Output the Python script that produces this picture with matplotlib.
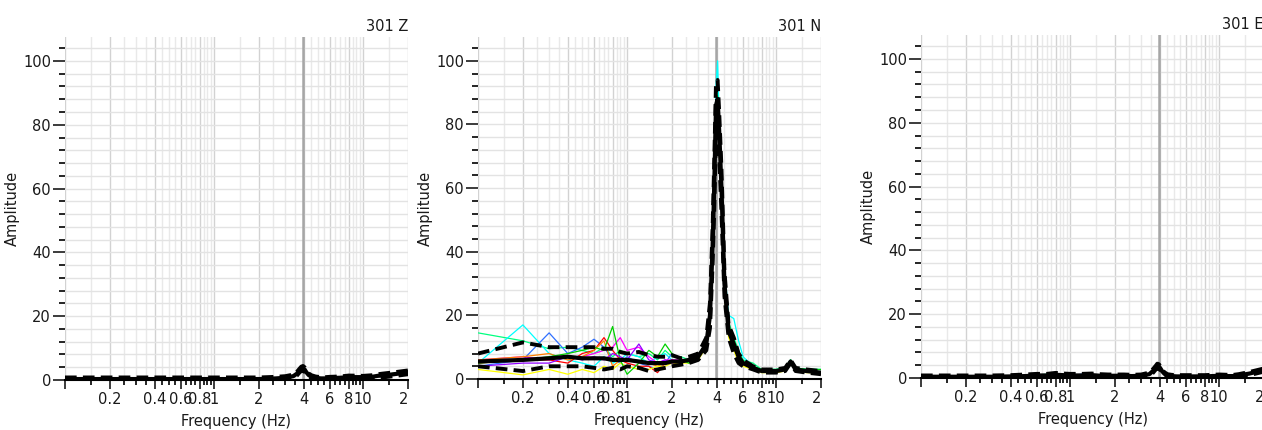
import numpy as np
import matplotlib
matplotlib.use('Agg')
import matplotlib.pyplot as plt
from matplotlib.ticker import FixedLocator, FixedFormatter
from matplotlib.transforms import Bbox, TransformedBbox

# frequency grid (Hz) shared by every curve
freq = [0.1, 0.2, 0.3, 0.4, 0.5, 0.6, 0.7, 0.8, 0.9, 1.0,
        1.2, 1.4, 1.6, 1.8, 2.0, 2.3, 2.6, 3.0, 3.4, 3.6,
        3.75, 3.85, 3.95, 4.05, 4.15, 4.3, 4.5, 4.8, 5.2, 5.6,
        6.0, 7.0, 8.0, 10.0, 11.5, 12.5, 13.5, 16.0, 20.0]

peak_freq = 3.98

titles = ['301 Z', '301 N', '301 E']
tick_vals = [0.1, 0.2, 0.4, 0.6, 0.8, 1, 2, 4, 6, 8, 10, 20]
tick_labels = ['', '0.2', '0.4', '0.6', '0.8', '1', '2', '4', '6', '8', '10', '20']

# ---- Z component ----
z_mean = [0.3, 0.3, 0.3, 0.3, 0.3, 0.3, 0.3, 0.3, 0.3, 0.3,
          0.3, 0.3, 0.3, 0.3, 0.3, 0.4, 0.5, 0.7, 1.2, 2.0,
          3.0, 3.5, 3.7, 3.3, 2.5, 1.6, 1.0, 0.7, 0.5, 0.5,
          0.6, 0.7, 0.9, 0.9, 1.0, 1.3, 1.4, 1.8, 2.4]
z_upper = [0.8, 0.8, 0.8, 0.8, 0.8, 0.8, 0.8, 0.8, 0.8, 0.8,
           0.8, 0.8, 0.8, 0.8, 0.8, 0.9, 1.0, 1.2, 1.7, 2.6,
           3.6, 4.2, 4.4, 4.0, 3.1, 2.1, 1.5, 1.1, 0.9, 0.9,
           1.0, 1.1, 1.4, 1.3, 1.5, 1.8, 2.0, 2.4, 3.0]
z_lower = [0.0, 0.0, 0.0, 0.0, 0.0, 0.0, 0.0, 0.0, 0.0, 0.0,
           0.0, 0.0, 0.0, 0.0, 0.0, 0.0, 0.1, 0.3, 0.7, 1.4,
           2.4, 2.8, 3.0, 2.6, 1.9, 1.1, 0.5, 0.3, 0.2, 0.2,
           0.2, 0.3, 0.4, 0.5, 0.5, 0.8, 0.8, 1.2, 1.8]
z_magenta = [0.2, 0.2, 0.2, 0.3, 0.2, 0.3, 0.2, 0.3, 0.2, 0.3,
             0.3, 0.2, 0.3, 0.3, 0.3, 0.4, 0.5, 0.6, 1.0, 1.8,
             2.8, 3.4, 3.6, 3.2, 2.3, 1.5, 0.9, 0.6, 0.4, 0.5,
             0.6, 0.7, 0.8, 0.8, 1.0, 1.2, 1.3, 1.9, 2.2]
z_green = [0.3, 0.4, 0.3, 0.3, 0.4, 0.3, 0.4, 0.3, 0.3, 0.4,
           0.3, 0.3, 0.4, 0.3, 0.3, 0.4, 0.5, 0.7, 1.3, 2.1,
           3.1, 3.6, 3.8, 3.4, 2.6, 1.7, 1.1, 0.8, 0.6, 0.6,
           0.7, 0.8, 1.0, 1.0, 1.1, 1.4, 1.6, 2.1, 2.9]
z_blue = [0.2, 0.3, 0.2, 0.2, 0.3, 0.2, 0.3, 0.2, 0.2, 0.3,
          0.2, 0.3, 0.2, 0.3, 0.2, 0.3, 0.4, 0.6, 1.1, 1.9,
          2.9, 3.4, 3.6, 3.2, 2.4, 1.5, 0.9, 0.6, 0.4, 0.4,
          0.5, 0.6, 0.8, 0.8, 0.9, 1.2, 1.3, 1.7, 2.3]

# ---- N component ----
n_mean = [5.5, 6.0, 6.5, 7.0, 6.5, 6.5, 6.5, 6.0, 6.0, 6.0,
          5.5, 5.0, 5.0, 5.0, 5.5, 5.5, 6.0, 7.0, 11.0, 20.0,
          42.0, 62.0, 86.0, 88.0, 78.0, 60.0, 30.0, 15.0, 11.0, 7.0,
          5.0, 3.5, 2.5, 2.5, 3.0, 5.5, 3.0, 2.5, 2.0]
n_upper = [8.0, 11.5, 10.0, 10.0, 10.0, 10.0, 9.5, 9.5, 8.5, 8.0,
           8.5, 7.5, 7.0, 7.0, 7.5, 6.5, 7.0, 8.0, 13.0, 24.0,
           48.0, 70.0, 93.0, 94.0, 84.0, 66.0, 34.0, 17.0, 13.0, 8.0,
           6.0, 4.0, 3.0, 3.0, 3.5, 6.0, 3.5, 3.0, 2.5]
n_lower = [4.0, 2.5, 4.0, 4.0, 4.0, 3.5, 3.0, 3.5, 3.0, 4.0,
           3.5, 2.5, 3.0, 3.5, 4.0, 4.5, 5.0, 6.0, 9.0, 16.0,
           36.0, 54.0, 78.0, 80.0, 70.0, 52.0, 26.0, 13.0, 8.0, 5.0,
           4.0, 3.0, 2.0, 2.0, 2.5, 5.0, 2.5, 2.0, 1.5]
n_cyan = [5.0, 17.0, 8.0, 6.0, 5.0, 4.0, 7.0, 5.0, 6.0, 8.0,
          7.0, 5.0, 7.0, 8.0, 6.0, 5.0, 6.0, 7.0, 12.0, 22.0,
          46.0, 70.0, 92.0, 100.0, 82.0, 64.0, 35.0, 20.0, 19.0, 12.0,
          7.0, 4.0, 3.0, 3.0, 3.5, 6.0, 3.5, 3.0, 3.0]
n_blue = [4.0, 6.0, 14.5, 8.0, 10.0, 12.5, 10.0, 6.0, 5.0, 7.0,
          5.0, 4.0, 3.0, 5.0, 8.0, 6.0, 5.0, 7.0, 11.0, 19.0,
          40.0, 60.0, 84.0, 86.0, 76.0, 58.0, 28.0, 14.0, 10.0, 6.0,
          4.5, 3.0, 2.5, 2.0, 3.0, 5.0, 3.0, 2.5, 2.0]
n_spring = [14.5, 12.0, 9.5, 10.0, 9.0, 8.0, 10.0, 7.0, 9.0, 8.0,
            7.0, 8.0, 6.0, 9.0, 7.0, 7.0, 6.0, 7.0, 12.0, 21.0,
            44.0, 66.0, 88.0, 90.0, 80.0, 62.0, 33.0, 18.0, 13.0, 9.0,
            6.0, 5.0, 3.0, 3.0, 3.5, 6.0, 3.5, 3.0, 3.0]
n_red = [5.0, 6.0, 6.0, 5.0, 8.0, 9.0, 13.0, 9.0, 6.0, 5.0,
         4.0, 4.0, 2.0, 5.0, 6.0, 5.0, 6.0, 7.0, 11.0, 20.0,
         42.0, 62.0, 86.0, 88.0, 78.0, 60.0, 30.0, 15.0, 11.0, 7.0,
         5.0, 3.5, 2.5, 2.5, 3.0, 5.5, 3.0, 2.5, 2.0]
n_magenta = [6.0, 7.0, 6.0, 7.0, 7.0, 8.0, 9.0, 10.0, 13.0, 9.0,
             10.0, 7.0, 5.0, 6.0, 6.0, 6.0, 6.0, 7.0, 12.0, 20.0,
             43.0, 63.0, 85.0, 87.0, 77.0, 59.0, 29.0, 15.0, 11.0, 7.0,
             5.0, 3.5, 2.5, 2.0, 3.0, 5.5, 3.0, 2.5, 2.0]
n_orange = [6.0, 7.0, 8.0, 6.0, 7.0, 9.0, 12.0, 4.0, 6.0, 6.0,
            5.0, 5.0, 4.0, 5.0, 5.0, 5.0, 6.0, 7.0, 11.0, 19.0,
            41.0, 61.0, 85.0, 87.0, 77.0, 59.0, 29.0, 15.0, 10.0, 6.0,
            4.5, 3.5, 2.5, 2.5, 3.0, 5.5, 3.0, 2.5, 2.0]
n_yellow = [3.0, 1.3, 3.0, 1.5, 3.0, 2.0, 4.0, 3.0, 5.0, 4.0,
            3.0, 3.0, 4.0, 4.0, 5.0, 5.0, 5.0, 6.0, 10.0, 17.0,
            38.0, 56.0, 80.0, 82.0, 72.0, 54.0, 26.0, 13.0, 9.0, 5.0,
            4.0, 3.0, 2.0, 2.0, 2.5, 5.0, 2.5, 2.0, 2.0]
n_green = [5.0, 6.0, 7.0, 8.0, 9.0, 10.0, 9.0, 16.5, 6.0, 1.5,
           5.0, 9.0, 7.0, 11.0, 8.0, 6.0, 5.0, 7.0, 12.0, 21.0,
           44.0, 65.0, 87.0, 89.0, 79.0, 61.0, 32.0, 17.0, 12.0, 8.0,
           5.5, 4.0, 3.0, 3.0, 3.5, 6.0, 3.5, 3.0, 3.0]
n_purple = [4.0, 5.0, 5.0, 7.0, 6.0, 7.0, 6.0, 8.0, 7.0, 6.0,
            11.0, 6.0, 5.0, 6.0, 5.0, 6.0, 6.0, 7.0, 11.0, 20.0,
            42.0, 62.0, 85.0, 87.0, 77.0, 59.0, 29.0, 15.0, 11.0, 7.0,
            5.0, 3.5, 2.5, 2.5, 3.0, 5.5, 3.0, 2.5, 2.0]

# ---- E component ----
e_mean = [0.4, 0.4, 0.4, 0.5, 0.6, 0.8, 0.8, 1.0, 0.9, 0.8,
          0.8, 0.9, 0.7, 0.7, 0.7, 0.7, 0.6, 0.7, 1.2, 2.2,
          3.2, 3.8, 3.6, 2.9, 2.1, 1.3, 0.8, 0.6, 0.5, 0.5,
          0.5, 0.5, 0.5, 0.7, 0.6, 0.6, 0.8, 1.4, 2.5]
e_upper = [0.8, 0.8, 0.8, 0.9, 1.1, 1.3, 1.3, 1.6, 1.4, 1.3,
           1.3, 1.4, 1.2, 1.1, 1.1, 1.1, 1.0, 1.1, 1.7, 2.8,
           3.8, 4.5, 4.3, 3.5, 2.6, 1.8, 1.2, 1.0, 0.9, 0.9,
           0.9, 0.9, 0.9, 1.1, 1.0, 1.0, 1.2, 1.9, 3.0]
e_lower = [0.0, 0.0, 0.0, 0.1, 0.2, 0.3, 0.3, 0.4, 0.4, 0.3,
           0.3, 0.4, 0.2, 0.3, 0.3, 0.3, 0.2, 0.3, 0.7, 1.6,
           2.6, 3.1, 2.9, 2.3, 1.6, 0.8, 0.4, 0.2, 0.1, 0.1,
           0.1, 0.1, 0.1, 0.3, 0.2, 0.2, 0.4, 0.9, 2.0]
e_magenta = [0.1, 0.2, 0.1, 0.2, 0.3, 0.5, 0.6, 0.7, 0.6, 0.5,
             0.6, 0.5, 0.3, 0.4, 0.4, 0.5, 0.4, 0.5, 1.0, 2.0,
             3.0, 3.6, 3.4, 2.7, 1.9, 1.1, 0.6, 0.4, 0.3, 0.3,
             0.3, 0.3, 0.3, 0.5, 0.4, 0.4, 0.6, 1.2, 2.3]
e_green = [0.3, 0.4, 0.5, 0.6, 0.7, 0.9, 1.2, 1.4, 1.0, 0.9,
           0.8, 1.0, 0.8, 0.8, 0.8, 0.8, 0.7, 0.8, 1.3, 2.3,
           3.3, 3.9, 3.7, 3.0, 2.2, 1.4, 0.9, 0.7, 0.6, 0.6,
           0.6, 0.6, 0.6, 0.8, 0.7, 0.7, 0.9, 1.6, 3.0]
e_cyan = [0.2, 0.3, 0.3, 0.4, 0.3, 0.2, 0.5, 0.6, 0.4, 0.5,
          0.6, 0.6, 0.5, 0.5, 0.5, 0.5, 0.5, 0.6, 1.1, 2.1,
          3.1, 3.7, 3.5, 2.8, 2.0, 1.2, 0.7, 0.5, 0.4, 0.4,
          0.4, 0.4, 0.4, 0.6, 0.5, 0.5, 0.7, 1.3, 2.4]
e_blue = [0.3, 0.3, 0.4, 0.5, 0.5, 0.6, 0.7, 0.8, 0.8, 0.7,
          1.2, 0.8, 0.6, 0.6, 0.6, 0.6, 0.5, 0.6, 1.1, 2.1,
          3.1, 3.7, 3.5, 2.8, 2.0, 1.2, 0.7, 0.5, 0.4, 0.4,
          0.4, 0.4, 0.4, 1.0, 0.5, 0.5, 0.7, 1.3, 2.4]

z_colored = [(z_magenta, '#ff00ff'), (z_green, '#00e000'), (z_blue, '#0060ff')]
n_colored = [(n_spring, '#00ff80'), (n_cyan, '#00ffff'), (n_blue, '#3070ff'),
             (n_red, '#ff0000'), (n_magenta, '#ff00ff'), (n_orange, '#ff8000'),
             (n_yellow, '#ffff00'), (n_green, '#00d000'), (n_purple, '#9000ff')]
e_colored = [(e_magenta, '#ff00ff'), (e_green, '#00e060'), (e_cyan, '#00ffff'),
             (e_blue, '#0060ff')]

paneles = [
    (z_colored, z_mean, z_upper, z_lower),
    (n_colored, n_mean, n_upper, n_lower),
    (e_colored, e_mean, e_upper, e_lower),
]

# axes boxes in pixels: left, top, width, height
cajas = [(65, 37, 343, 343), (478, 37, 343, 342), (921, 35, 343, 343)]

W, H = 1262, 430
FS = 10.5

def minorTicks():
    ticks = list(np.arange(0.15, 1.0, 0.05)) + list(np.arange(1.5, 10, 0.5)) + [15]
    return ticks

def dibujarPanel(fig, caja, titulo, coloreadas, media, sup, inf):
    left, top, w, h = caja
    ax = fig.add_axes([left / W, 1 - (top + h) / H, w / W, h / H])
    ax.set_xscale('log')

    ax.axvline(peak_freq, color = '#a6a6a6', lw = 1.8, zorder = 1.5)

    for valores, color in coloreadas:
        ax.plot(freq, valores, color = color, lw = 0.9, zorder = 2)
    for valores in [sup, inf]:
        ax.plot(freq, valores, color = 'black', lw = 2.8, linestyle = (0, (3, 1.6)), zorder = 3)
    ax.plot(freq, media, color = 'black', lw = 3.0, zorder = 4)

    ax.set_xlim(0.1, 20)
    ax.set_ylim(0, 107.5)

    ax.xaxis.set_major_locator(FixedLocator(tick_vals))
    ax.xaxis.set_major_formatter(FixedFormatter(tick_labels))
    ax.xaxis.set_minor_locator(FixedLocator(minorTicks()))
    ax.xaxis.set_minor_formatter(FixedFormatter([]))
    ax.yaxis.set_major_locator(FixedLocator([0, 20, 40, 60, 80, 100]))
    ax.yaxis.set_minor_locator(FixedLocator(list(range(4, 108, 4))))

    ax.xaxis.grid(True, which = 'major', color = '#d2d2d2', lw = 1.0)
    ax.xaxis.grid(True, which = 'minor', color = '#e9e9e9', lw = 1.0)
    ax.yaxis.grid(True, which = 'both', color = '#e3e3e3', lw = 1.0)
    ax.set_axisbelow(True)

    for lado in ['top', 'right', 'left']:
        ax.spines[lado].set_visible(False)
    ax.spines['bottom'].set_linewidth(1.5)

    ax.tick_params(axis = 'x', which = 'major', length = 6.5, width = 1.2, pad = 2,
                   labelsize = FS, colors = '#1a1a1a')
    ax.tick_params(axis = 'x', which = 'minor', length = 3.5, width = 1.2)
    ax.tick_params(axis = 'y', which = 'major', length = 9, width = 1.2, pad = 1,
                   labelsize = FS, colors = '#1a1a1a')
    ax.tick_params(axis = 'y', which = 'minor', length = 4, width = 1.2)

    ax.set_xlabel('Frequency (Hz)', fontsize = FS, labelpad = 5, color = '#1a1a1a')
    ax.set_ylabel('Amplitude', fontsize = FS, labelpad = 2, color = '#1a1a1a')
    ax.set_title(titulo, loc = 'right', fontsize = FS, pad = 4, color = '#1a1a1a')

    # the last tick label is cut at the right edge of the plot
    recorte = TransformedBbox(Bbox([[0, 0], [(left + w) / W, 1]]), fig.transFigure)
    for tick in ax.xaxis.get_major_ticks():
        tick.label1.set_clip_box(recorte)
        tick.label1.set_clip_on(True)
    return ax

fig = plt.figure(figsize = (W / 100, H / 100), dpi = 100)
for caja, titulo, (coloreadas, media, sup, inf) in zip(cajas, titles, paneles):
    dibujarPanel(fig, caja, titulo, coloreadas, media, sup, inf)

fig.savefig('out.png', dpi = 100)
plt.close()
